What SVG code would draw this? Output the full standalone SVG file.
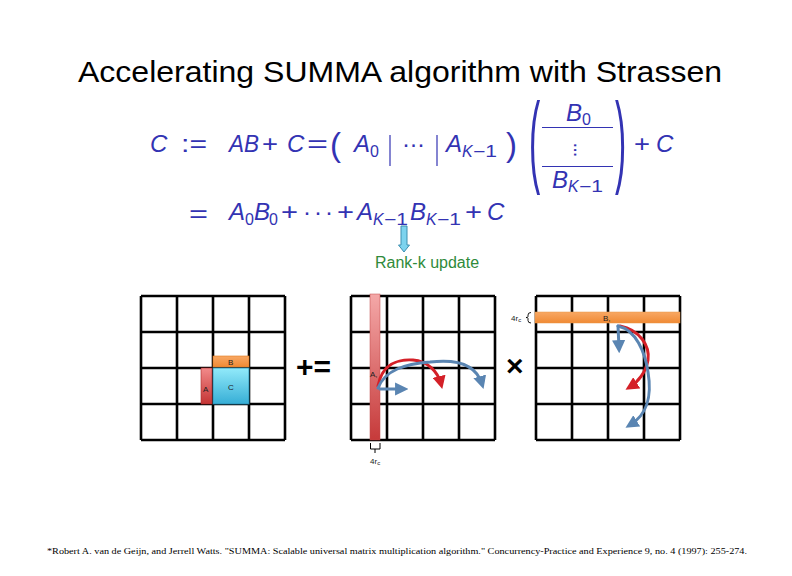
<svg xmlns="http://www.w3.org/2000/svg" width="792" height="576" viewBox="0 0 792 576">
<defs>
<linearGradient id="gOrange" x1="0" y1="0" x2="0" y2="1"><stop offset="0" stop-color="#f8a864"/><stop offset="1" stop-color="#f08a34"/></linearGradient>
<linearGradient id="gBlue" x1="0" y1="0" x2="0" y2="1"><stop offset="0" stop-color="#92eafa"/><stop offset="1" stop-color="#36aed6"/></linearGradient>
<linearGradient id="gRed" x1="0" y1="0" x2="0" y2="1"><stop offset="0" stop-color="#f28a8a"/><stop offset="1" stop-color="#c43434"/></linearGradient>
<linearGradient id="gRedBar" x1="0" y1="0" x2="0" y2="1"><stop offset="0" stop-color="#f4a8a8"/><stop offset="1" stop-color="#c63a3a"/></linearGradient>
<marker id="hRed" viewBox="0 0 10 10" refX="6" refY="5" markerWidth="4.4" markerHeight="4.4" orient="auto" markerUnits="strokeWidth"><path d="M0,0 L10,5 L0,10 z" fill="#d42028"/></marker>
<marker id="hBlue" viewBox="0 0 10 10" refX="6" refY="5" markerWidth="4.4" markerHeight="4.4" orient="auto" markerUnits="strokeWidth"><path d="M0,0 L10,5 L0,10 z" fill="#5a85b2"/></marker>
<style>
.title{font-family:"Liberation Sans",Arial,sans-serif;font-size:30px;fill:#000}
.m{font-family:"Liberation Sans",Arial,sans-serif;font-size:24px;fill:#3333b3}
.mi{font-style:italic}
.s{font-family:"Liberation Sans",Arial,sans-serif;font-size:16px;fill:#3333b3}
.grid{fill:none;stroke:#000;stroke-width:2.6}
.lbl{font-family:"Liberation Sans",Arial,sans-serif;font-size:8px;fill:#222}
.ar{fill:none;stroke-width:3;stroke-linecap:round}
.red{stroke:#d42028;marker-end:url(#hRed)}
.blue{stroke:#5a85b2;marker-end:url(#hBlue)}
.rule{stroke:#3333b3;stroke-width:1.2}
.foot{font-family:"Liberation Serif","Times New Roman",serif;font-size:9px;fill:#000}
</style>
</defs>
<rect width="792" height="576" fill="#fff"/>

<g id="title"><text class="title" x="78" y="82" textLength="644" lengthAdjust="spacingAndGlyphs">Accelerating SUMMA algorithm with Strassen</text></g>

<g id="equation">
<text class="m mi" x="150" y="152">C</text>
<text class="m" x="181" y="152" textLength="26" lengthAdjust="spacingAndGlyphs">:=</text>
<text class="m mi" x="229" y="152" textLength="30" lengthAdjust="spacingAndGlyphs">AB</text>
<text class="m" x="262" y="152" textLength="16" lengthAdjust="spacingAndGlyphs">+</text>
<text class="m mi" x="287" y="152">C</text>
<text class="m" x="307" y="152" textLength="21" lengthAdjust="spacingAndGlyphs">=</text>
<text class="m" x="330" y="156" style="font-size:33px">(</text>
<text class="m mi" x="354" y="152">A</text>
<text class="s" x="370" y="157">0</text>
<line class="rule" x1="390" y1="135" x2="390" y2="166"/>
<text class="m" x="402" y="152" textLength="23" lengthAdjust="spacing">···</text>
<line class="rule" x1="437" y1="135" x2="437" y2="166"/>
<text class="m mi" x="446" y="152">A</text>
<text class="s mi" x="462" y="157">K</text>
<text class="s" x="473" y="157" textLength="24" lengthAdjust="spacingAndGlyphs">−1</text>
<text class="m" x="506" y="156" style="font-size:33px">)</text>
<text class="m" transform="translate(529,174) scale(0.33,1)" style="font-size:102px">(</text>
<text class="m mi" x="566" y="121">B</text>
<text class="s" x="582" y="125">0</text>
<line class="rule" x1="542" y1="127.5" x2="613" y2="127.5"/>
<text class="m" transform="translate(570,142) rotate(90)" style="font-size:20px" textLength="16" lengthAdjust="spacing">···</text>
<line class="rule" x1="542" y1="166.5" x2="613" y2="166.5"/>
<text class="m mi" x="552" y="188">B</text>
<text class="s mi" x="568" y="192">K</text>
<text class="s" x="579" y="192" textLength="24" lengthAdjust="spacingAndGlyphs">−1</text>
<text class="m" transform="translate(615,174) scale(0.33,1)" style="font-size:102px">)</text>
<text class="m" x="634" y="152" textLength="16" lengthAdjust="spacingAndGlyphs">+</text>
<text class="m mi" x="656" y="152">C</text>

<text class="m" x="189" y="222" textLength="19" lengthAdjust="spacingAndGlyphs">=</text>
<text class="m mi" x="229" y="220">A</text>
<text class="s" x="245" y="225">0</text>
<text class="m mi" x="254" y="220">B</text>
<text class="s" x="269" y="225">0</text>
<text class="m" x="281" y="220" textLength="17" lengthAdjust="spacingAndGlyphs">+</text>
<text class="m" x="303" y="220" textLength="30" lengthAdjust="spacing">···</text>
<text class="m" x="337" y="220" textLength="17" lengthAdjust="spacingAndGlyphs">+</text>
<text class="m mi" x="357" y="220">A</text>
<text class="s mi" x="373" y="225">K</text>
<text class="s" x="384" y="225" textLength="24" lengthAdjust="spacingAndGlyphs">−1</text>
<text class="m mi" x="410" y="220">B</text>
<text class="s mi" x="426" y="225">K</text>
<text class="s" x="437" y="225" textLength="24" lengthAdjust="spacingAndGlyphs">−1</text>
<text class="m" x="465" y="220" textLength="17" lengthAdjust="spacingAndGlyphs">+</text>
<text class="m mi" x="487" y="220">C</text>
</g>

<g id="rank-k">
<path d="M401,226 H407 V245 H409.5 L404,252 L398.5,245 H401 Z" fill="#7dd3ee" stroke="#3d8fb0" stroke-width="1"/>
<text x="375" y="268" font-family="'Liberation Sans',Arial,sans-serif" font-size="16" fill="#2f8a3a">Rank-k update</text>
</g>

<g id="grid-left">
<path class="grid" d="M141,296H285M141,332H285M141,368H285M141,404H285M141,440H285M141,296V440M177,296V440M213,296V440M249,296V440M285,296V440"/>
<rect x="213" y="356" width="36" height="11" fill="url(#gOrange)" stroke="#e07a20" stroke-width="0.6"/>
<rect x="213" y="368" width="36" height="36" fill="url(#gBlue)" stroke="#2a8ab0" stroke-width="0.8"/>
<rect x="201" y="368" width="11" height="36" fill="url(#gRed)" stroke="#a82a2a" stroke-width="0.6"/>
<text class="lbl" x="228" y="365">B</text>
<text class="lbl" x="228" y="390">C</text>
<text class="lbl" x="203" y="392">A</text>
</g>

<g id="op-plus-eq"><text x="296" y="377" font-family="'Liberation Sans',Arial,sans-serif" font-size="30" font-weight="bold" fill="#000">+=</text></g>

<g id="grid-mid">
<path class="grid" d="M351,296H495M351,332H495M351,368H495M351,404H495M351,440H495M351,296V440M387,296V440M423,296V440M459,296V440M495,296V440"/>
<rect x="370" y="294" width="10" height="146" fill="url(#gRedBar)" stroke="#c04848" stroke-width="0.5"/>
<text class="lbl" x="370" y="377">A,</text>
<path d="M370.5,443 V449 H380 V443 M375,449 V453" fill="none" stroke="#000" stroke-width="1"/>
<text class="lbl" x="370" y="464">4r<tspan font-size="6" dy="1">c</tspan></text>
</g>

<g id="op-times"><text x="506" y="376" font-family="'Liberation Sans',Arial,sans-serif" font-size="30" font-weight="bold" fill="#000">×</text></g>

<g id="grid-right">
<path class="grid" d="M536,296H680M536,332H680M536,368H680M536,404H680M536,440H680M536,296V440M572,296V440M608,296V440M644,296V440M680,296V440"/>
<rect x="535" y="312" width="145" height="11" fill="url(#gOrange)" stroke="#e8964a" stroke-width="0.5"/>
<text class="lbl" x="603" y="321">B,</text>
<text class="lbl" x="511" y="321">4r<tspan font-size="6" dy="1">c</tspan></text>
<path d="M531,312.5 Q528,312.5 528,315 V316.5 Q528,317.5 526,317.5 Q528,317.5 528,318.5 V320.5 Q528,323 531,323" fill="none" stroke="#000" stroke-width="0.9"/>
</g>

<g id="connectors">
<path class="ar red" d="M378,386 C382,364 398,359 413,360 C428,361 438,372 441,384"/>
<path class="ar blue" d="M378,388 C385,370 405,364 430,362 C455,359 476,364 482,384"/>
<path class="ar blue" d="M380,389 L403,389"/>
<path class="ar blue" d="M618,326 L619,348"/>
<path class="ar red" d="M620,326 C640,330 650,346 648,360 C646,372 638,382 630,387"/>
<path class="ar blue" d="M618,326 C636,330 645,352 648,372 C652,396 648,414 630,425"/>
</g>

<g id="footnote"><text class="foot" x="47" y="554" textLength="700" lengthAdjust="spacingAndGlyphs">*Robert A. van de Geijn, and Jerrell Watts. "SUMMA: Scalable universal matrix multiplication algorithm." Concurrency-Practice and Experience 9, no. 4 (1997): 255-274.</text></g>
</svg>
